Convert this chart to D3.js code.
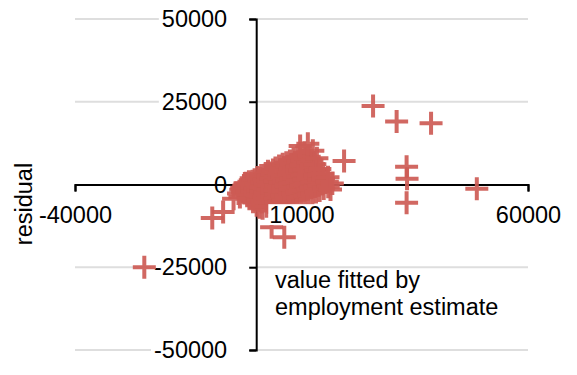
<!DOCTYPE html>
<html>
<head>
<meta charset="utf-8">
<script src="https://cdn.jsdelivr.net/npm/d3@7"></script>
<style>
  html, body { margin: 0; padding: 0; background: #fff; }
  svg { display: block; }
  text { font-family: "Liberation Sans", Arial, Helvetica, sans-serif; }
</style>
</head>
<body>
<svg id="chart" width="577" height="375"></svg>
<script>
// Axis ticks
const xTicks = [-40000, 10000, 60000];
const yTicks = [-50000, -25000, 0, 25000, 50000];
const yGridTicks = [-50000, -25000, 25000, 50000];

// Fitted value (x) and residual (y) for each observation
const fittedValues = [
  // main cluster
  -3200, -3600, -3900, -3000, -3400,
  -2800, -2700, -2500,
  -2600, -2400, -2300, -2700,
  -1900, -1700, -1800, -1600, -2000, -1500,
  -1100, -900, -1000, -800, -1200, -700,
  -400, -200, -300, -100, -350, 100,
  500, 300, 450, 350, 550, 250, 700,
  1200, 1000, 1150, 1050, 1250, 950, 1100, 1400,
  2000, 1800, 1950, 1850, 2050, 1750, 1900, 2100, 2300,
  2800, 2600, 2750, 2650, 2850, 2550, 2700, 2900, 2600,
  3600, 3400, 3550, 3450, 3650, 3350, 3500, 3700,
  4400, 4200, 4350, 4250, 4450, 4150, 4300, 4500, 4250,
  5200, 5000, 5150, 5050, 5250, 4950, 5100, 5300, 5050,
  6000, 5800, 5950, 5850, 6050, 5750, 5900, 6100, 5850,
  6800, 6600, 6750, 6650, 6850, 6550, 6700, 6900, 6650,
  7600, 7400, 7550, 7450, 7650, 7350, 7500, 7700, 7450,
  8400, 8200, 8350, 8250, 8450, 8150, 8300, 8500, 8250,
  9200, 9000, 9150, 9050, 9250, 8950, 9100, 9300, 9050,
  10000, 9800, 9950, 9850, 10050, 9750, 9900, 10100, 9850,
  10800, 10600, 10750, 10650, 10850, 10550, 10700, 10900, 10650,
  11600, 11400, 11550, 11450, 11650, 11350, 11500, 11700,
  12400, 12200, 12350, 12250, 12450, 12150, 12300, 12500,
  13200, 13000, 13150, 13050, 13250, 12950, 13400,
  14000, 13800, 13950, 13850, 14050,
  14900, 14700, 14850, 14750,
  15900, 15700, 15850,
  16800, 16400,
  // scattered observations
  -24700, 25800, 31000, 38600, 33200, 33300, 33200, 48700,
  19400, -9700, -7300, -5000, 3400, 6200, 11400, 9700
];
const residuals = [
  -1000, -3800, -2700, -2200, -1600,
  -1700, -500, 300,
  -2600, -1100, 400, -300,
  -3100, -1600, 100, 800, -2200, -4300,
  -3900, -2100, -600, 1000, 300, -5200,
  -4600, -2900, -1300, 200, 1400, -6300,
  -4900, -3300, -1700, -300, 1100, 2100, -6900,
  -5300, -3600, -2200, -800, 700, 1800, 2700, -7200,
  -5000, -3800, -2600, -1100, 300, 1500, 2800, 3300, -6600,
  -5400, -4200, -2900, -1600, -200, 1200, 2400, 3500, 4000,
  -5100, -3700, -2400, -900, 600, 1900, 3100, 4400,
  -5500, -4300, -3100, -1700, -400, 1000, 2500, 3700, 5000,
  -5200, -3900, -2300, -900, 700, 1900, 3200, 4500, 5600,
  -4900, -3400, -2000, -600, 900, 2300, 3800, 5100, 6100,
  -4700, -3500, -1900, -300, 1300, 2800, 4200, 5500, 6600,
  -4400, -2900, -1400, 200, 1700, 3200, 4700, 6000, 7100,
  -4200, -2700, -1000, 500, 2000, 3600, 5000, 6400, 7700,
  -3900, -2300, -700, 900, 2500, 3900, 5400, 6900, 8300,
  -3700, -2000, -400, 1200, 2800, 4300, 5800, 7300, 8900,
  -3400, -1700, 0, 1600, 3100, 4600, 6200, 7900, 9600,
  -3000, -1400, 300, 2000, 3500, 5100, 6700, 8400,
  -2700, -1000, 700, 2300, 3900, 5600, 7300, 10200,
  -2300, -600, 1000, 2700, 4300, 6100, 7900,
  -1800, -200, 1400, 3000, 4700,
  -1200, 400, 1800, 3300,
  -700, 800, 2200,
  300, -1500,
  -25000, 23700, 19000, 18500, 5400, 1700, -5500, -1300,
  7100, -10100, -8300, -4300, -12900, -15900, 12300, 11600
];

const points = fittedValues.map((v, i) => ({ fitted: v, residual: residuals[i] }));

const svg = d3.select("#chart");
const fontSize = 23.5;
const capHeight = fontSize * 0.716;

const x = d3.scaleLinear().domain([-40000, 60000]).range([75, 528]);
const y = d3.scaleLinear().domain([-50000, 50000]).range([350, 19]);
const fmt = d => String(d);

// Horizontal gridlines
svg.append("g")
  .selectAll("line")
  .data(yGridTicks)
  .join("line")
  .attr("x1", x.range()[0])
  .attr("x2", x.range()[1])
  .attr("y1", d => y(d))
  .attr("y2", d => y(d))
  .attr("stroke", "#dedede")
  .attr("stroke-width", 2);

// Left axis with its labels; a white band keeps gridlines off the labels
const yAxis = svg.append("g")
  .attr("transform", `translate(${x(0)},0)`)
  .call(d3.axisLeft(y).tickValues(yTicks).tickSize(7).tickPadding(22).tickFormat(fmt));
yAxis.attr("font-family", null).attr("font-size", null);
yAxis.selectAll("path, line").attr("stroke", "#000").attr("stroke-width", 2);
yAxis.selectAll("text").attr("fill", "#000").style("font-size", fontSize + "px");
yAxis.selectAll(".tick").filter(d => d !== 0).each(function () {
  const b = d3.select(this).select("text").node().getBBox();
  d3.select(this).insert("rect", ":first-child")
    .attr("x", b.x - 3).attr("y", -3)
    .attr("width", -7 - (b.x - 3)).attr("height", 6)
    .attr("fill", "#fff");
});

// Bottom axis line and ticks
const xAxisLines = svg.append("g")
  .attr("transform", `translate(0,${y(0)})`)
  .call(d3.axisBottom(x).tickValues(xTicks).tickSize(7).tickFormat(""));
xAxisLines.selectAll("path, line").attr("stroke", "#000").attr("stroke-width", 2);

// Plus markers
svg.append("g")
  .selectAll("path")
  .data(points)
  .join("path")
  .attr("transform", d => `translate(${x(d.fitted)},${y(d.residual)})`)
  .attr("d", "M-11.5,0H11.5M0,-11.5V11.5")
  .attr("fill", "none")
  .attr("stroke", "#cd5b55")
  .attr("stroke-opacity", 0.92)
  .attr("stroke-width", 4);

// Bottom tick labels above the markers, on a white backing
const xLabels = svg.append("g")
  .attr("transform", `translate(0,${y(0)})`)
  .call(d3.axisBottom(x).tickValues(xTicks).tickSize(0).tickFormat(fmt));
xLabels.select(".domain").remove();
xLabels.selectAll(".tick line").remove();
xLabels.attr("font-family", null).attr("font-size", null);
xLabels.selectAll("text")
  .attr("fill", "#000")
  .attr("y", 38.5)
  .attr("dy", null)
  .style("font-size", fontSize + "px");
xLabels.selectAll(".tick").each(function () {
  const b = d3.select(this).select("text").node().getBBox();
  d3.select(this).insert("rect", "text")
    .attr("x", b.x - 1).attr("y", 38.5 - capHeight - 2)
    .attr("width", b.width + 2).attr("height", capHeight + 4)
    .attr("fill", "#fff");
});

// Axis titles
svg.append("text")
  .attr("transform", "translate(32,204) rotate(-90)")
  .attr("text-anchor", "middle")
  .style("font-size", fontSize + "px")
  .attr("fill", "#000")
  .text("residual");

const xTitle = svg.append("text")
  .style("font-size", fontSize + "px")
  .attr("fill", "#000");
xTitle.append("tspan").attr("x", 275).attr("y", 288).text("value fitted by");
xTitle.append("tspan").attr("x", 275).attr("y", 314.5).text("employment estimate");
</script>
</body>
</html>
